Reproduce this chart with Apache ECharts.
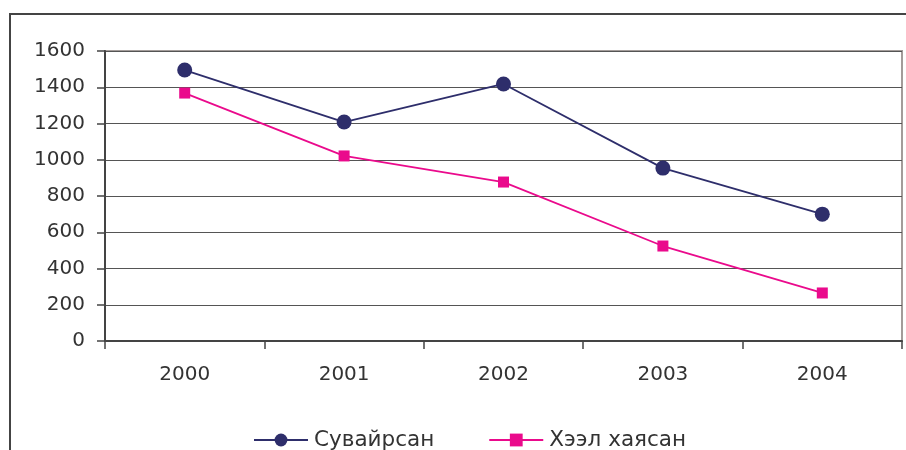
<!DOCTYPE html>
<html>
<head>
<meta charset="utf-8">
<script src="https://cdn.jsdelivr.net/npm/echarts@6/dist/echarts.min.js"></script>
<style>
  html, body { margin: 0; padding: 0; background: #fff; }
  #chart { width: 906px; height: 450px; }
</style>
</head>
<body>
<div id="chart"></div>
<script>
const years = ['2000', '2001', '2002', '2003', '2004'];
const suvairsan = [1495, 1208, 1418, 954, 700];
const kheelKhaysan = [1368, 1021, 877, 524, 265];
const yTicks = { min: 0, max: 1600, interval: 200 };

const chart = echarts.init(document.getElementById('chart'));

const textColor = '#333';
const font = 'DejaVu Sans, sans-serif';

chart.setOption({
  animation: false,
  graphic: [
    { type: 'line', shape: { x1: 10, y1: 14, x2: 10, y2: 450 }, style: { stroke: '#444', lineWidth: 2 } },
    { type: 'line', shape: { x1: 9, y1: 14, x2: 906, y2: 14 }, style: { stroke: '#444', lineWidth: 2 } }
  ],
  grid: {
    left: 105,
    top: 51,
    right: 4,
    bottom: 109,
    show: true,
    borderColor: '#a39c9a',
    borderWidth: 2,
    backgroundColor: '#fff'
  },
  legend: {
    left: 248,
    top: 424,
    itemWidth: 54,
    itemHeight: 16,
    itemGap: 54,
    textStyle: { fontFamily: font, fontSize: 21.5, color: textColor, padding: [0, 0, 0, 1] },
    data: ['Сувайрсан', 'Хээл хаясан']
  },
  xAxis: {
    type: 'category',
    data: years,
    boundaryGap: true,
    axisLine: { lineStyle: { color: '#444', width: 2 } },
    axisTick: { show: true, length: 8, lineStyle: { color: '#444', width: 1.5 } },
    axisLabel: { fontFamily: font, fontSize: 20, color: textColor, margin: 24 },
    splitLine: { show: false }
  },
  yAxis: {
    type: 'value',
    min: yTicks.min,
    max: yTicks.max,
    interval: yTicks.interval,
    axisLine: { show: true, lineStyle: { color: '#444', width: 2 } },
    axisTick: { show: true, length: 8, lineStyle: { color: '#444', width: 1.5 } },
    axisLabel: { fontFamily: font, fontSize: 20, color: textColor, margin: 20, formatter: v => String(v) },
    splitLine: { show: true, lineStyle: { color: '#555', width: 1.2 } }
  },
  series: [
    {
      name: 'Сувайрсан',
      type: 'line',
      data: suvairsan,
      symbol: 'circle',
      symbolSize: 15,
      lineStyle: { color: '#2e2e6b', width: 1.8 },
      itemStyle: { color: '#2e2e6b' }
    },
    {
      name: 'Хээл хаясан',
      type: 'line',
      data: kheelKhaysan,
      symbol: 'rect',
      symbolSize: 11,
      lineStyle: { color: '#ea0a8c', width: 1.8 },
      itemStyle: { color: '#ea0a8c' }
    }
  ]
});
</script>
</body>
</html>
